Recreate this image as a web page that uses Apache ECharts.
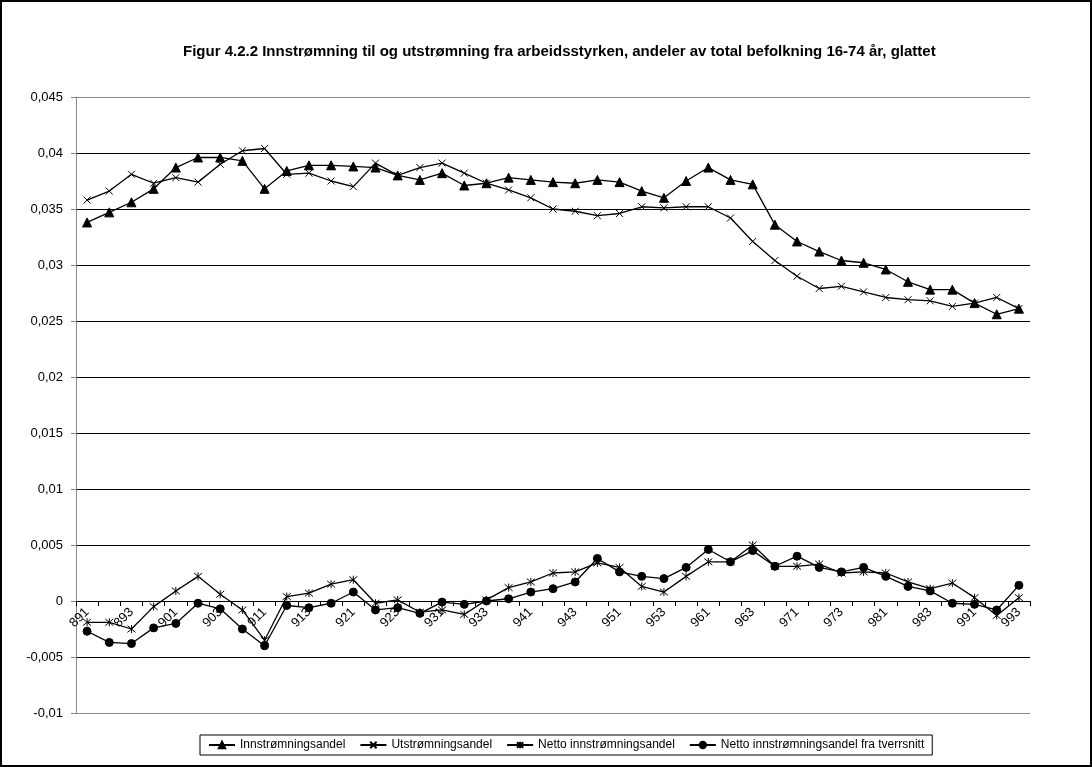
<!DOCTYPE html>
<html><head><meta charset="utf-8">
<script src="https://cdn.jsdelivr.net/npm/echarts@6/dist/echarts.min.js"></script>
<style>html,body{margin:0;padding:0;background:#fff}#c{width:1092px;height:767px}</style>
</head><body><div id="c"></div>
<script>
const years = ['89','90','91','92','93','94','95','96','97','98','99'];
const categories = [];
years.forEach(y => { for (let q = 1; q <= 4; q++) { if (y === '99' && q === 4) continue; categories.push(y + q); } });
const yTicks = [-0.01,-0.005,0,0.005,0.01,0.015,0.02,0.025,0.03,0.035,0.04,0.045];

const innstromning = [0.0338,0.0347,0.0356,0.0368,0.0387,0.0396,0.0396,0.0393,0.0368,0.0384,0.0389,0.0389,0.0388,0.0387,0.0380,0.0376,0.0382,0.0371,0.0373,0.0378,0.0376,0.0374,0.0373,0.0376,0.0374,0.0366,0.0360,0.0375,0.0387,0.0376,0.0372,0.0336,0.0321,0.0312,0.0304,0.0302,0.0296,0.0285,0.0278,0.0278,0.0266,0.0256,0.0261];
const utstromning = [0.0358,0.0366,0.0381,0.0373,0.0378,0.0374,0.0390,0.0402,0.0404,0.0381,0.0382,0.0375,0.0370,0.0391,0.0380,0.0387,0.0391,0.0382,0.0373,0.0367,0.0360,0.0350,0.0348,0.0344,0.0346,0.0352,0.0351,0.0352,0.0352,0.0342,0.0321,0.0304,0.0290,0.0279,0.0281,0.0276,0.0271,0.0269,0.0268,0.0263,0.0266,0.0271,0.0261];
const netto = [-0.0019,-0.0019,-0.0025,-0.0005,0.0009,0.0022,0.0006,-0.0008,-0.0035,0.0004,0.0007,0.0015,0.0019,-0.0002,0.0001,-0.0010,-0.0008,-0.0012,0.0001,0.0012,0.0017,0.0025,0.0026,0.0034,0.0030,0.0013,0.0008,0.0022,0.0035,0.0035,0.0050,0.0031,0.0031,0.0033,0.0025,0.0026,0.0025,0.0017,0.0011,0.0016,0.0003,-0.0013,0.0003];
const nettoTverrsnitt = [-0.0027,-0.0037,-0.0038,-0.0024,-0.0020,-0.0002,-0.0007,-0.0025,-0.0040,-0.0004,-0.0006,-0.0002,0.0008,-0.0008,-0.0006,-0.0011,-0.0001,-0.0003,0.0000,0.0002,0.0008,0.0011,0.0017,0.0038,0.0026,0.0022,0.0020,0.0030,0.0046,0.0035,0.0045,0.0031,0.0040,0.0030,0.0026,0.0030,0.0022,0.0013,0.0009,-0.0002,-0.0003,-0.0008,0.0014];

const seriesNames = ['Innstrømningsandel','Utstrømningsandel','Netto innstrømningsandel','Netto innstrømningsandel fra tverrsnitt'];
const titleText = 'Figur 4.2.2 Innstrømning til og utstrømning fra arbeidsstyrken, andeler av total befolkning 16-74 år, glattet';

const FONT = '"Liberation Sans", Arial, sans-serif';
const xSym = 'path://M0,0L10,10M10,0L0,10';
const astSym = 'path://M0,0L10,10M10,0L0,10M5,-1L5,11';

function mk(name, data, symbol, size) {
  return {
    name, type: 'line', data, symbol, symbolSize: size, showAllSymbol: true,
    lineStyle: { color: '#000', width: 1.3 },
    itemStyle: { color: '#000', borderColor: '#000', borderWidth: 1 },
    emphasis: { disabled: true }, animation: false
  };
}

const GRID_TOP = 97, GRID_BOTTOM_Y = 713;
const zeroOffset = -((GRID_BOTTOM_Y - GRID_TOP) * (0 - yTicks[0]) / (yTicks[yTicks.length - 1] - yTicks[0]));

const chart = echarts.init(document.getElementById('c'), null, { renderer: 'canvas' });
chart.setOption({
  backgroundColor: '#fff',
  animation: false,
  title: { text: titleText, left: 178, top: 39,
    textStyle: { fontFamily: FONT, fontSize: 15, fontWeight: 'bold', color: '#000' } },
  graphic: [{ type: 'rect', shape: { x: 1, y: 1, width: 1090, height: 765 }, style: { fill: 'none', stroke: '#000', lineWidth: 2 }, silent: true }],
  legend: {
    left: 200, top: 735,
    borderColor: '#000', borderWidth: 1, padding: [4, 8], itemGap: 14,
    itemWidth: 26, itemHeight: 8,
    textStyle: { fontFamily: FONT, fontSize: 12, color: '#000' },
    data: seriesNames
  },
  grid: { left: 76, right: 62, top: GRID_TOP, bottom: 767 - GRID_BOTTOM_Y, containLabel: false },
  xAxis: {
    type: 'category', data: categories, boundaryGap: true,
    offset: zeroOffset,
    axisLine: { onZero: false, lineStyle: { color: '#000', width: 1 } },
    axisTick: { show: true, interval: 0, length: 5, inside: false, lineStyle: { color: '#000' } },
    axisLabel: { interval: 1, rotate: 45, margin: 9, color: '#000', fontFamily: FONT, fontSize: 13 },
    splitLine: { show: false }
  },
  yAxis: {
    type: 'value', min: yTicks[0], max: yTicks[yTicks.length - 1], interval: 0.005,
    axisLine: { show: true, lineStyle: { color: '#888', width: 1 } },
    axisTick: { show: true, length: 5, lineStyle: { color: '#888' } },
    axisLabel: { color: '#000', fontFamily: FONT, fontSize: 13, margin: 13,
      formatter: v => String(+v.toFixed(4)).replace('.', ',') },
    splitLine: { show: true, lineStyle: { color: ['#888','#000','#000','#000','#000','#000','#000','#000','#000','#000','#000','#888'], width: 1 } }
  },
  series: [
    mk(seriesNames[0], innstromning, 'triangle', 9),
    mk(seriesNames[1], utstromning, xSym, 7),
    mk(seriesNames[2], netto, astSym, 8),
    mk(seriesNames[3], nettoTverrsnitt, 'circle', 8)
  ]
});
</script></body></html>
